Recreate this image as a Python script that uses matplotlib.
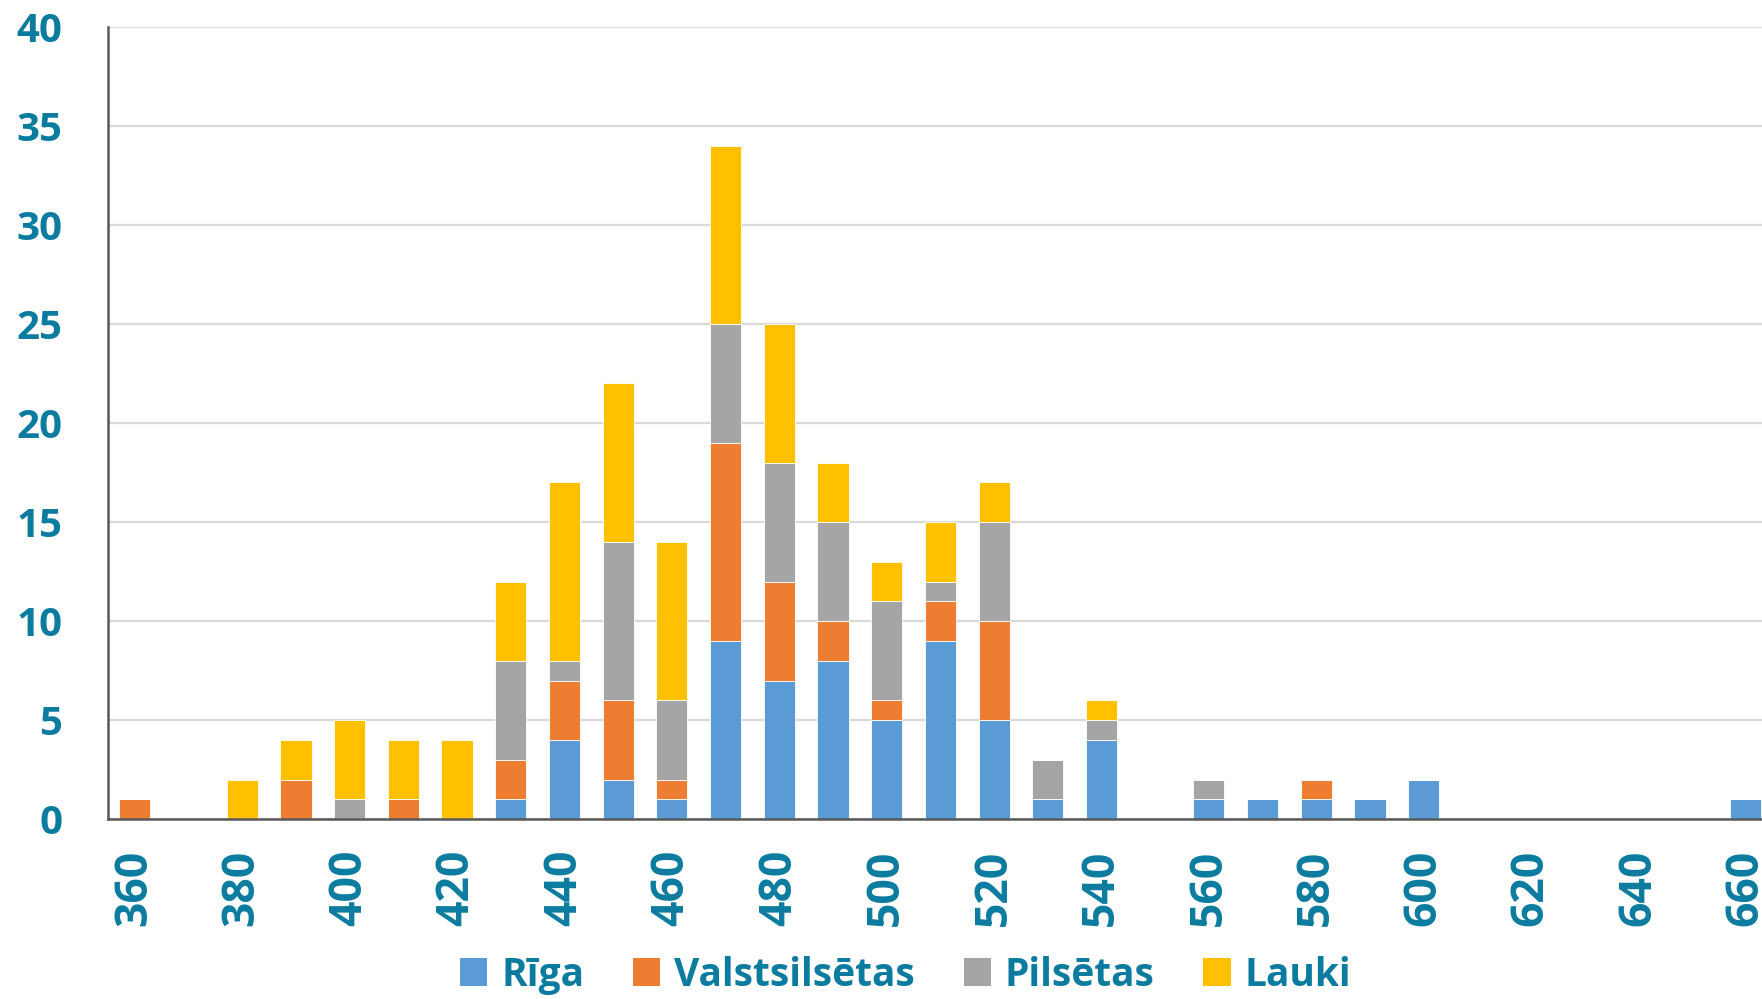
import numpy as np
import matplotlib
matplotlib.use('Agg')
import matplotlib.pyplot as plt

# score bins (every 10 points) and counts per region type
bins = list(range(360, 670, 10))
riga = [0, 0, 0, 0, 0, 0, 0, 1, 4, 2, 1, 9, 7, 8, 5, 9, 5, 1, 4, 0, 1, 1, 1, 1, 2, 0, 0, 0, 0, 0, 1]
valsts = [1, 0, 0, 2, 0, 1, 0, 2, 3, 4, 1, 10, 5, 2, 1, 2, 5, 0, 0, 0, 0, 0, 1, 0, 0, 0, 0, 0, 0, 0, 0]
pilsetas = [0, 0, 0, 0, 1, 0, 0, 5, 1, 8, 4, 6, 6, 5, 5, 1, 5, 2, 1, 0, 1, 0, 0, 0, 0, 0, 0, 0, 0, 0, 0]
lauki = [0, 0, 2, 2, 4, 3, 4, 4, 9, 8, 8, 9, 7, 3, 2, 3, 2, 0, 1, 0, 0, 0, 0, 0, 0, 0, 0, 0, 0, 0, 0]

series_names = ['Rīga', 'Valstsilsētas', 'Pilsētas', 'Lauki']
colors = ['#5B9BD5', '#ED7D31', '#A5A5A5', '#FFC000']
text_color = '#0B7B9F'

fig = plt.figure(figsize=(17.62, 9.99), dpi=100)
ax = fig.add_axes([0.0613, 0.180, 1.0 - 0.0613, 0.973 - 0.180])

x = np.arange(len(bins))
bottom = np.zeros(len(bins))
for vals, name, col in zip([riga, valsts, pilsetas, lauki], series_names, colors):
    vals = np.array(vals)
    ax.bar(x, vals, width=0.58, bottom=bottom, color=col, label=name,
           edgecolor='white', linewidth=0.6, zorder=3)
    bottom += vals

ax.set_xlim(-0.5, 30.3)
ax.set_ylim(0, 40)
ax.set_yticks(range(0, 41, 5))
ax.set_xticks(x[::2])
ax.set_xticklabels([str(b) for b in bins[::2]], rotation=90)

ax.yaxis.grid(True, color='#D9D9D9', linewidth=1.6, zorder=0)
ax.set_axisbelow(True)
for s in ['top', 'right']:
    ax.spines[s].set_visible(False)
for s in ['left', 'bottom']:
    ax.spines[s].set_color('#595959')
    ax.spines[s].set_linewidth(1.8)
    ax.spines[s].set_zorder(4)

ax.tick_params(axis='y', length=0, pad=33)
ax.tick_params(axis='x', length=0, pad=22)
for lab in ax.get_yticklabels():
    lab.set_fontfamily('Open Sans')
    lab.set_fontweight('bold')
    lab.set_fontsize(29)
    lab.set_color(text_color)
for lab in ax.get_xticklabels():
    lab.set_fontfamily('Open Sans')
    lab.set_fontweight('bold')
    lab.set_fontsize(32)
    lab.set_color(text_color)

leg = fig.legend(loc='center', bbox_to_anchor=(0.514, 0.024), ncol=4, frameon=False,
                 prop={'family': 'Open Sans', 'weight': 'bold', 'size': 28},
                 handlelength=0.7, handleheight=0.7, handletextpad=0.36,
                 columnspacing=1.25, borderpad=0)
for t in leg.get_texts():
    t.set_color(text_color)
for h in leg.legend_handles:
    h.set_linewidth(0)

fig.savefig('out.png', dpi=100)
